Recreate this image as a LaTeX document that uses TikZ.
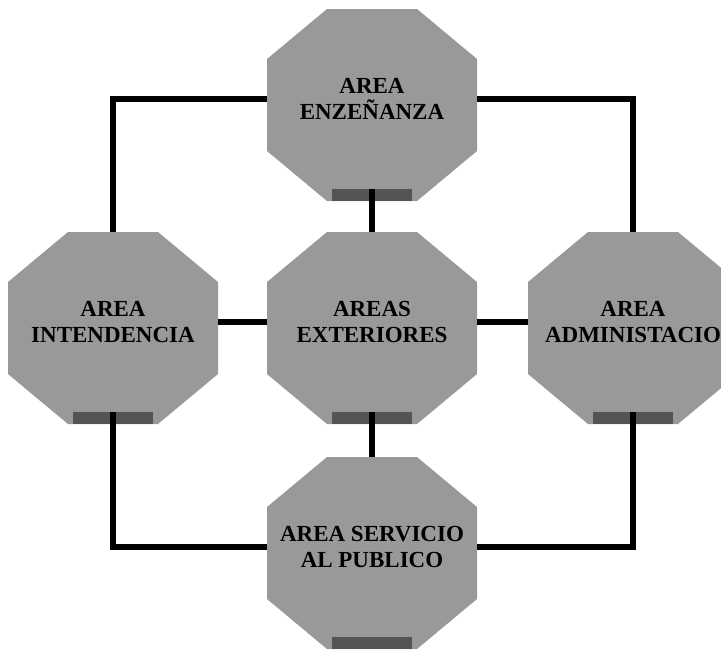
\documentclass[tikz,border=0pt]{standalone}
\usepackage{fontspec}
\setmainfont{Liberation Serif}
\usetikzlibrary{backgrounds}
\definecolor{areagray}{gray}{0.6}
\definecolor{areadark}{gray}{0.33}
\tikzset{
  area/.style={inner sep=0pt, outer sep=0pt, minimum width=105pt, minimum height=90pt,
    align=center, font=\bfseries\fontsize{11.5}{13}\selectfont},
  link/.style={draw, line width=2.8pt}
}

\begin{document}
\begin{tikzpicture}[x=0.5pt,y=-0.5pt]
\useasboundingbox (0,0) rectangle (721,649);
\node[area] (1) at (372,99) {AREA\\ENZEÑANZA};
\node[area] (2) at (113,322) {AREA\\INTENDENCIA};
\node[area] (3) at (372,322) {AREAS\\EXTERIORES};
\node[area] (4) at (633,322) {AREA\\ADMINISTACIO};
\node[area] (5) at (372,547) {AREA SERVICIO\\AL PUBLICO};
% octagons behind the labels
\begin{pgfonlayer}{background}
\foreach \n in {1,...,5} {
  \fill[areagray] ([xshift=30pt]\n.north west) -- ([xshift=-30pt]\n.north east)
    -- ([yshift=-25pt]\n.north east) -- ([yshift=19pt]\n.south east)
    -- ([xshift=-30pt,yshift=-6pt]\n.south east) -- ([xshift=30pt,yshift=-6pt]\n.south west)
    -- ([yshift=19pt]\n.south west) -- ([yshift=-25pt]\n.north west) -- cycle;
  \fill[areadark] ([xshift=-20pt,yshift=-6pt]\n.south) rectangle ([xshift=20pt]\n.south);
}
\end{pgfonlayer}
\path[link] (1.west) -| (2.north);
\path[link] (1.east) -| (4.north);
\path[link] (2.south) |- (5.west);
\path[link] (4.south) |- (5.east);
\path[link] (2) -- (3);
\path[link] (3) -- (4);
\path[link] (1) -- (3);
\path[link] (3) -- (5);
\end{tikzpicture}
\end{document}
